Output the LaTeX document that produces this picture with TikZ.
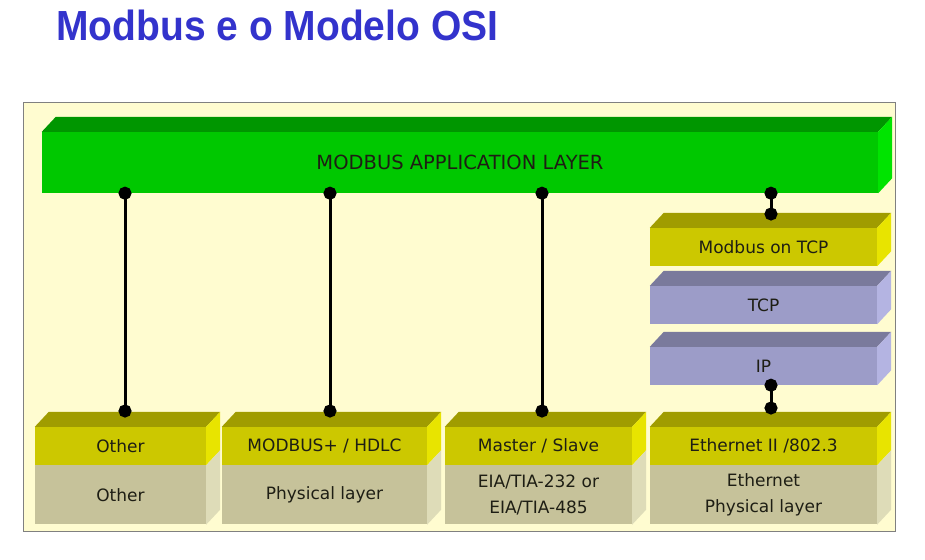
\documentclass[tikz,border=0pt]{standalone}
\usepackage{fontspec}
\setmainfont{DejaVu Sans}
\newfontfamily\titlefont{Liberation Sans}
\usetikzlibrary{arrows.meta,positioning,calc}

\definecolor{titleblue}{RGB}{51,51,204}
\definecolor{panelbg}{RGB}{255,252,208}
\definecolor{greenfront}{RGB}{0,200,0}
\definecolor{greentop}{RGB}{0,150,0}
\definecolor{greenside}{RGB}{0,228,0}
\definecolor{yelfront}{RGB}{204,200,0}
\definecolor{yeltop}{RGB}{160,156,0}
\definecolor{yelside}{RGB}{232,228,0}
\definecolor{greyfront}{RGB}{198,194,154}
\definecolor{greyside}{RGB}{222,220,184}
\definecolor{lilfront}{RGB}{156,156,200}
\definecolor{liltop}{RGB}{122,122,156}
\definecolor{lilside}{RGB}{180,180,226}
\definecolor{labelink}{RGB}{30,30,20}

% 3d faces of a layer box
\newcommand{\topface}[2]{\fill[#2] (#1.north west) -- ++(14,-15) -- ($(#1.north east)+(14,-15)$) -- (#1.north east) -- cycle;}
\newcommand{\sideface}[2]{\fill[#2] (#1.north east) -- ++(14,-15) -- ($(#1.south east)+(14,-15)$) -- (#1.south east) -- cycle;}

\tikzset{
	layer/.style={rectangle, inner sep=0pt, minimum height=38pt, text=labelink, font=\fontsize{17}{26}\selectfont, align=center},
	link/.style={line width=3pt, {Circle[length=13pt]}-{Circle[length=13pt]}, shorten <=-6.5pt, shorten >=-6.5pt},
}

\begin{document}
\begin{tikzpicture}[x=1pt,y=-1pt]
	\useasboundingbox (0,0) rectangle (925,559);
	\node (title) [anchor=base west, inner sep=0pt, text=titleblue, font=\titlefont\bfseries\fontsize{39}{44}\selectfont, yscale=1.08] at (56,41) {Modbus e o Modelo OSI};
	\fill[panelbg, draw=gray] (23,102) rectangle (895,531);

	\path (460,162.5) node (app) [layer, fill=greenfront, minimum width=836pt, minimum height=61pt, font=\fontsize{19.5}{22}\selectfont] {MODBUS APPLICATION LAYER}
		  (763.5,247) node (mtcp) [layer, fill=yelfront, minimum width=227pt] {Modbus on TCP}
		  (763.5,305) node (tcp) [layer, fill=lilfront, minimum width=227pt] {TCP}
		  (763.5,366) node (ip) [layer, fill=lilfront, minimum width=227pt] {IP}
		  (120.5,446) node (oth) [layer, fill=yelfront, minimum width=171pt] {Other}
		  (324.5,446) node (hdlc) [layer, fill=yelfront, minimum width=205pt] {MODBUS+ / HDLC}
		  (538.5,446) node (ms) [layer, fill=yelfront, minimum width=187pt] {Master / Slave}
		  (763.5,446) node (eth) [layer, fill=yelfront, minimum width=227pt] {Ethernet II /802.3};
	\node (othphy) [layer, fill=greyfront, minimum width=171pt, minimum height=59pt, below=0pt of oth] {Other};
	\node (hdlcphy) [layer, fill=greyfront, minimum width=205pt, minimum height=59pt, below=0pt of hdlc] {Physical layer};
	\node (msphy) [layer, fill=greyfront, minimum width=187pt, minimum height=59pt, below=0pt of ms] {EIA/TIA-232 or\\EIA/TIA-485};
	\node (ethphy) [layer, fill=greyfront, minimum width=227pt, minimum height=59pt, below=0pt of eth] {Ethernet\\Physical layer};

	\topface{app}{greentop} \sideface{app}{greenside}
	\topface{mtcp}{yeltop} \sideface{mtcp}{yelside}
	\topface{tcp}{liltop} \sideface{tcp}{lilside}
	\topface{ip}{liltop} \sideface{ip}{lilside}
	\foreach \b in {oth,hdlc,ms,eth} {
		\topface{\b}{yeltop} \sideface{\b}{yelside}
		\sideface{\b phy}{greyside}
	}

	% connector ends
	\coordinate (othdot) at (125,411);
	\coordinate (hdlcdot) at (330,411);
	\coordinate (msdot) at (542,411);
	\coordinate (mtcpdot) at (771,214);
	\coordinate (ethdot) at (771,408);
	\draw[link] (othdot |- app.south) -- (othdot);
	\draw[link] (hdlcdot |- app.south) -- (hdlcdot);
	\draw[link] (msdot |- app.south) -- (msdot);
	\draw[link] (mtcpdot |- app.south) -- (mtcpdot);
	\draw[link] (ethdot |- ip.south) -- (ethdot);
\end{tikzpicture}
\end{document}
